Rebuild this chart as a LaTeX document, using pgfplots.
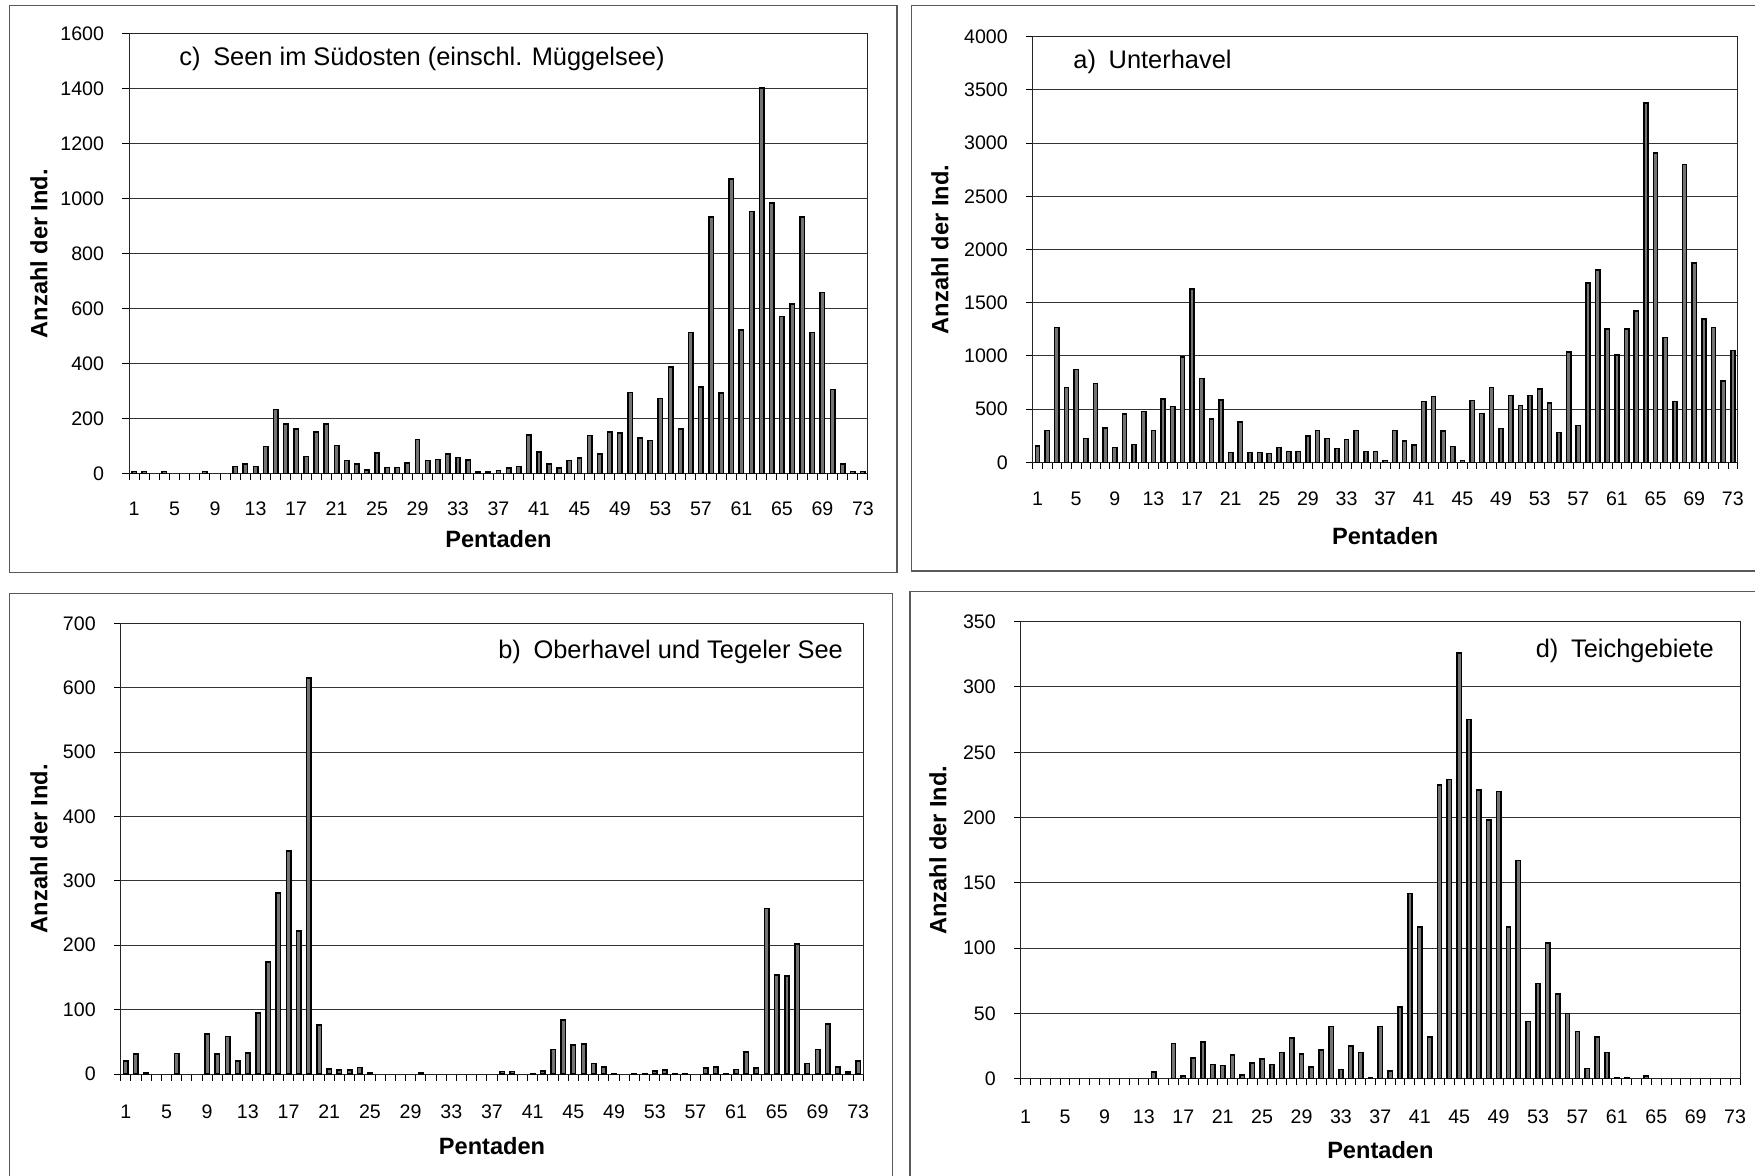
\documentclass[border=0pt]{standalone}
\usepackage{fontspec}
\setmainfont{Liberation Sans}
\usepackage{pgfplots}
\pgfplotsset{compat=1.18}
\tikzset{ttl/.style={inner sep=0pt, font=\fontsize{12.7}{14}\selectfont}}
\pgfplotsset{
  panel/.style={
    scale only axis,
    xmin=0.5, xmax=73.5, ymin=0,
    axis line style={black!85, line width=0.5pt},
    xtick={1,5,...,73},
    minor xtick={0.5,1.5,...,73.5},
    major x tick style={draw=none},
    minor x tick style={black, line width=0.5pt},
    y tick style={black, line width=0.5pt},
    minor tick length=3.3pt,
    major tick length=3.3pt,
    tick align=outside,
    xtick pos=bottom, ytick pos=left,
    ymajorgrids,
    major grid style={black!80, line width=0.5pt},
    /pgf/number format/assume math mode=true,
    /pgf/number format/1000 sep={},
    tick label style={font=\fontsize{9.8}{11}\selectfont},
    yticklabel style={anchor=east, inner sep=0pt, xshift=-9pt},
    xlabel={Pentaden},
    ylabel={Anzahl der Ind.},
    label style={font=\fontsize{11.8}{13}\selectfont\bfseries},
  },
  xlab/.style={xticklabel style={anchor=center, text height=7pt, text depth=0pt, inner sep=0pt, yshift=#1}},
  bars/.style={ybar, bar width=0.44, draw=black, fill=black!55, line width=0.75pt},
}
\begin{document}
\begin{tikzpicture}
\useasboundingbox (0pt,0pt) rectangle (877.5pt,-588pt);
\fill[white] (0pt,0pt) rectangle (877.5pt,-588pt);
% frames
\draw[black!65, line width=0.65pt] (4.65pt,-2.8pt) rectangle (448.5pt,-286.35pt);
\draw[black!65, line width=0.65pt] (455.85pt,-2.8pt) rectangle (890pt,-285.5pt);
\draw[black!65, line width=0.65pt] (4.65pt,-296.85pt) rectangle (446.35pt,-600pt);
\draw[black!65, line width=0.65pt] (455pt,-295.85pt) rectangle (890pt,-600pt);

% c) Seen im Suedosten
\begin{axis}[panel, at={(64.5pt,-236.65pt)}, anchor=south west,
  width=369.5pt, height=219.65pt, ymax=1600, ytick={0,200,...,1600},
  xlab=-14.5pt,
  xlabel style={at={(axis description cs:0.5,0)}, anchor=center, yshift=-33pt},
  ylabel style={at={([xshift=-45pt]axis description cs:0,0.5)}, anchor=center}]
\addplot[bars] coordinates {
(1,6)(2,6)(4,6)(8,6)(11,24)(12,33)(13,25)(14,98)(15,232)(16,179)(17,161)(18,62)(19,151)(20,179)
(21,102)(22,46)(23,33)(24,12)(25,74)(26,21)(27,21)(28,38)(29,124)(30,46)(31,51)(32,71)(33,57)
(34,48)(35,5)(36,5)(37,11)(38,20)(39,24)(40,140)(41,78)(42,33)(43,20)(44,46)(45,56)(46,137)
(47,71)(48,150)(49,146)(50,295)(51,129)(52,120)(53,273)(54,387)(55,161)(56,512)(57,314)(58,934)
(59,292)(60,1071)(61,522)(62,954)(63,1404)(64,985)(65,572)(66,617)(67,934)(68,512)(69,658)
(70,305)(71,33)(72,6)(73,6)};
\node[anchor=west, ttl] at (axis description cs:0.0677,0.943) {c)\enspace Seen im Südosten (einschl. Müggelsee)};
\end{axis}

% a) Unterhavel
\begin{axis}[panel, at={(516.35pt,-231.15pt)}, anchor=south west,
  width=352.5pt, height=212.8pt, ymax=4000, ytick={0,500,...,4000},
  xlab=-15pt,
  xlabel style={at={(axis description cs:0.5,0)}, anchor=center, yshift=-37pt},
  ylabel style={at={([xshift=-46.35pt]axis description cs:0,0.5)}, anchor=center}]
\addplot[bars] coordinates {
(1,153)(2,297)(3,1268)(4,704)(5,873)(6,225)(7,742)(8,322)(9,141)(10,454)(11,166)(12,476)
(13,297)(14,595)(15,523)(16,992)(17,1631)(18,789)(19,407)(20,585)(21,91)(22,379)(23,91)(24,91)
(25,81)(26,141)(27,103)(28,103)(29,247)(30,297)(31,225)(32,128)(33,216)(34,297)(35,103)(36,103)
(37,19)(38,297)(39,200)(40,163)(41,570)(42,620)(43,294)(44,150)(45,19)(46,582)(47,460)(48,701)
(49,319)(50,629)(51,535)(52,629)(53,689)(54,557)(55,282)(56,1036)(57,344)(58,1684)(59,1806)
(60,1255)(61,1008)(62,1255)(63,1424)(64,3377)(65,2908)(66,1171)(67,573)(68,2798)(69,1875)
(70,1346)(71,1268)(72,764)(73,1049)};
\node[anchor=west, ttl] at (axis description cs:0.0572,0.941) {a)\enspace Unterhavel};
\end{axis}

% b) Oberhavel und Tegeler See
\begin{axis}[panel, at={(60.35pt,-537pt)}, anchor=south west,
  width=371.3pt, height=225.35pt, ymax=700, ytick={0,100,...,700},
  xlab=-15.6pt,
  xlabel style={at={(axis description cs:0.5,0)}, anchor=center, yshift=-36pt},
  ylabel style={at={([xshift=-40.85pt]axis description cs:0,0.5)}, anchor=center}]
\addplot[bars] coordinates {
(1,20)(2,31)(3,2)(6,32)(9,62)(10,31)(11,58)(12,20)(13,33)(14,95)(15,174)(16,281)(17,346)
(18,222)(19,615)(20,76)(21,8)(22,6)(23,6)(24,10)(25,2)(30,2)(38,4)(39,4)(41,1)(42,5)(43,38)
(44,84)(45,45)(46,47)(47,16)(48,11)(49,1)(51,1)(52,1)(53,5)(54,6)(55,1)(56,1)(58,9)(59,11)
(60,1)(61,7)(62,34)(63,9)(64,257)(65,154)(66,152)(67,202)(68,16)(69,38)(70,78)(71,11)(72,3)(73,20)};
\node[anchor=east, ttl] at (axis description cs:0.973,0.937) {b)\enspace Oberhavel und Tegeler See};
\end{axis}

% d) Teichgebiete
\begin{axis}[panel, at={(510.35pt,-539.35pt)}, anchor=south west,
  width=359.65pt, height=228.5pt, ymax=350, ytick={0,50,...,350},
  xlab=-15.6pt,
  xlabel style={at={(axis description cs:0.5,0)}, anchor=center, yshift=-35.5pt},
  ylabel style={at={([xshift=-41.35pt]axis description cs:0,0.5)}, anchor=center}]
\addplot[bars] coordinates {
(14,5)(16,27)(17,2)(18,16)(19,28)(20,11)(21,10)(22,18)(23,3)(24,12)(25,15)(26,11)(27,20)
(28,31)(29,19)(30,9)(31,22)(32,40)(33,7)(34,25)(35,20)(36,1)(37,40)(38,6)(39,55)(40,142)
(41,116)(42,32)(43,225)(44,229)(45,326)(46,275)(47,221)(48,198)(49,220)(50,116)(51,167)
(52,44)(53,73)(54,104)(55,65)(56,50)(57,36)(58,8)(59,32)(60,20)(61,1)(62,1)(64,2)};
\node[anchor=east, ttl] at (axis description cs:0.964,0.9365) {d)\enspace Teichgebiete};
\end{axis}
\end{tikzpicture}
\end{document}
